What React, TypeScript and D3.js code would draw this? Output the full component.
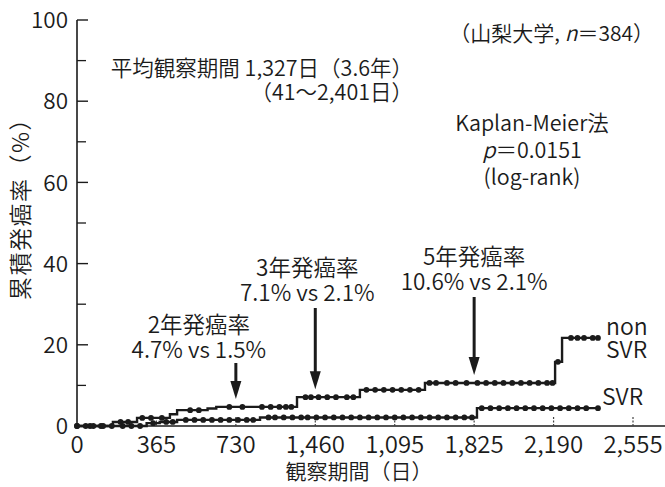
import React from "react";
import * as d3 from "d3";

const W = 665;
const H = 487;

// Kaplan-Meier cumulative incidence steps: day of each event and cumulative % after it
const nonSvrDays = [0, 165, 276, 427, 460, 600, 640, 1011, 1300, 1599, 2197, 2229, 2394];
const nonSvrRate = [0, 1.0, 2.0, 2.9, 3.9, 4.3, 4.7, 7.1, 8.9, 10.6, 15.8, 21.7, 21.7];
const svrDays = [0, 320, 380, 460, 841, 1838, 2394];
const svrRate = [0, 0.7, 1.0, 1.5, 2.1, 4.4, 4.4];

// Censoring times (days)
const nonSvrCensor = [0, 40, 75, 120, 200, 235, 300, 340, 390, 520, 560, 700, 760, 850, 890, 930, 960, 985, 1050, 1075, 1110, 1150, 1190, 1240, 1270, 1330, 1370, 1410, 1450, 1490, 1530, 1570, 1620, 1650, 1700, 1740, 1790, 1840, 1880, 1920, 1960, 2000, 2040, 2080, 2120, 2160, 2185, 2210, 2270, 2300, 2330, 2370, 2394];
const svrCensor = [0, 60, 110, 160, 210, 250, 290, 350, 410, 440, 500, 540, 580, 620, 660, 700, 740, 780, 810, 880, 910, 950, 990, 1030, 1060, 1100, 1140, 1180, 1220, 1260, 1300, 1340, 1380, 1420, 1460, 1500, 1540, 1580, 1620, 1660, 1700, 1740, 1780, 1815, 1860, 1900, 1940, 1980, 2020, 2060, 2100, 2140, 2180, 2220, 2260, 2300, 2340, 2394];

// Axis ticks and labels
const xTickDays = [0, 365, 730, 1095, 1460, 1825, 2190, 2555];
const xTickLabels = ["0", "365", "730", "1,460", "1,095", "1,825", "2,190", "2,555"];
const yMajorTicks = [0, 20, 40, 60, 80, 100];
const yMinorTicks = [10, 30, 50, 70, 90];

// Milestone incidence callouts
const milestoneDays = [730, 1095, 1825];
const milestoneTitles = ["2年発癌率", "3年発癌率", "5年発癌率"];
const milestoneNonSvr = [4.7, 7.1, 10.6];
const milestoneSvr = [1.5, 2.1, 2.1];

const FONT = "'Noto Sans CJK JP', 'Noto Sans', sans-serif";
const INK = "#1b1b1b";
const WEIGHT = 350;

const x = d3.scaleLinear().domain([0, 2555]).range([77, 633]);
const y = d3.scaleLinear().domain([0, 100]).range([426, 20]);

function stepValue(days: number[], rates: number[], t: number) {
  const i = d3.bisectRight(days, t) - 1;
  return rates[Math.max(0, i)];
}

const line = d3
  .line<[number, number]>()
  .x((d) => x(d[0]))
  .y((d) => y(d[1]))
  .curve(d3.curveStepAfter);

// text layout for callouts (horizontal offset of text block, first line position, arrow top)
const calloutLayout = [
  { dx: -37, y1: 325, arrowTop: 363 },
  { dx: -8, y1: 268, arrowTop: 308 },
  { dx: 0, y1: 257, arrowTop: 297 },
];

function Curve({ days, rates, censor }: { days: number[]; rates: number[]; censor: number[] }) {
  const pts: [number, number][] = days.map((d, i) => [d, rates[i]]);
  return (
    <g>
      <path d={line(pts) || ""} fill="none" stroke={INK} strokeWidth={2.4} />
      {censor.map((t, i) => (
        <circle key={i} cx={x(t)} cy={y(stepValue(days, rates, t))} r={2.9} fill={INK} />
      ))}
    </g>
  );
}

export default function App() {
  return (
    <svg
      width={W}
      height={H}
      style={{ position: "absolute", left: 0, top: 0, background: "#fff" }}
      fontFamily={FONT}
      fontWeight={WEIGHT}
    >
      <rect width={W} height={H} fill="#fff" />

      {/* Y axis */}
      <line x1={x(0)} x2={x(0)} y1={y(100)} y2={y(0) + 2} stroke={INK} strokeWidth={1.6} />
      {yMajorTicks.map((v) => (
        <g key={"M" + v}>
          <line x1={x(0)} x2={x(0) + 11} y1={y(v)} y2={y(v)} stroke={INK} strokeWidth={1.4} />
          <text x={68} y={y(v)} dy="0.36em" textAnchor="end" fontSize={22.5} fill={INK}>
            {v}
          </text>
        </g>
      ))}
      {yMinorTicks.map((v) => (
        <line key={"m" + v} x1={x(0)} x2={x(0) + 9} y1={y(v)} y2={y(v)} stroke={INK} strokeWidth={1.3} />
      ))}
      <text
        transform={`translate(21, 203) rotate(-90)`}
        textAnchor="middle"
        dy="0.36em"
        fontSize={23}
        fill={INK}
        letterSpacing={1.5}
      >
        累積発癌率（%）
      </text>

      {/* X axis */}
      <line x1={x(0)} x2={W} y1={y(0)} y2={y(0)} stroke={INK} strokeWidth={1.6} />
      {xTickDays.map((d, i) => (
        <g key={"x" + d}>
          {i > 0 && (
            <line x1={x(d)} x2={x(d)} y1={y(0)} y2={y(0) - 10} stroke="#444" strokeWidth={1.2} strokeDasharray="2,1.5" />
          )}
          <text x={x(d)} y={444} dy="0.36em" textAnchor="middle" fontSize={24} fill={INK}>
            {xTickLabels[i]}
          </text>
        </g>
      ))}
      <text x={359} y={471} dy="0.36em" textAnchor="middle" fontSize={21} fill={INK}>
        観察期間（日）
      </text>

      {/* Curves */}
      <Curve days={svrDays} rates={svrRate} censor={svrCensor} />
      <Curve days={nonSvrDays} rates={nonSvrRate} censor={nonSvrCensor} />

      {/* Group labels */}
      <text x={606} y={327} dy="0.36em" fontSize={23} fill={INK}>
        non
        <tspan x={606} dy={23}>SVR</tspan>
      </text>
      <text x={602} y={397} dy="0.36em" fontSize={23} fill={INK}>SVR</text>

      {/* Milestone callouts */}
      {milestoneDays.map((d, i) => {
        const L = calloutLayout[i];
        const ax = x(d);
        const tip = y(milestoneNonSvr[i]) - 8;
        const cx = ax + L.dx;
        return (
          <g key={"c" + d}>
            <text x={cx} y={L.y1} dy="0.36em" textAnchor="middle" fontSize={22.5} fill={INK}>
              {milestoneTitles[i]}
              <tspan x={cx} dy={25}>{`${milestoneNonSvr[i]}% vs ${milestoneSvr[i]}%`}</tspan>
            </text>
            <line x1={ax} x2={ax} y1={L.arrowTop} y2={tip - 14} stroke={INK} strokeWidth={3} />
            <path d={`M${ax - 5.5},${tip - 18} L${ax + 5.5},${tip - 18} L${ax},${tip} Z`} fill={INK} />
          </g>
        );
      })}

      {/* Study notes */}
      <text x={413} y={68} dy="0.36em" textAnchor="end" fontSize={21.5} fill={INK}>
        平均観察期間 1,327日（3.6年）
        <tspan x={413} dy={24}>（41〜2,401日）</tspan>
      </text>
      <text x={654} y={33} dy="0.36em" textAnchor="end" fontSize={21} fill={INK}>
        （山梨大学, <tspan fontStyle="italic">n</tspan>＝384）
      </text>
      <text x={532} y={123} dy="0.36em" textAnchor="middle" fontSize={21.5} fill={INK}>
        Kaplan-Meier法
        <tspan x={532} dy={27}>
          <tspan fontStyle="italic">p</tspan>＝0.0151
        </tspan>
        <tspan x={532} dy={27}>(log-rank)</tspan>
      </text>
    </svg>
  );
}
